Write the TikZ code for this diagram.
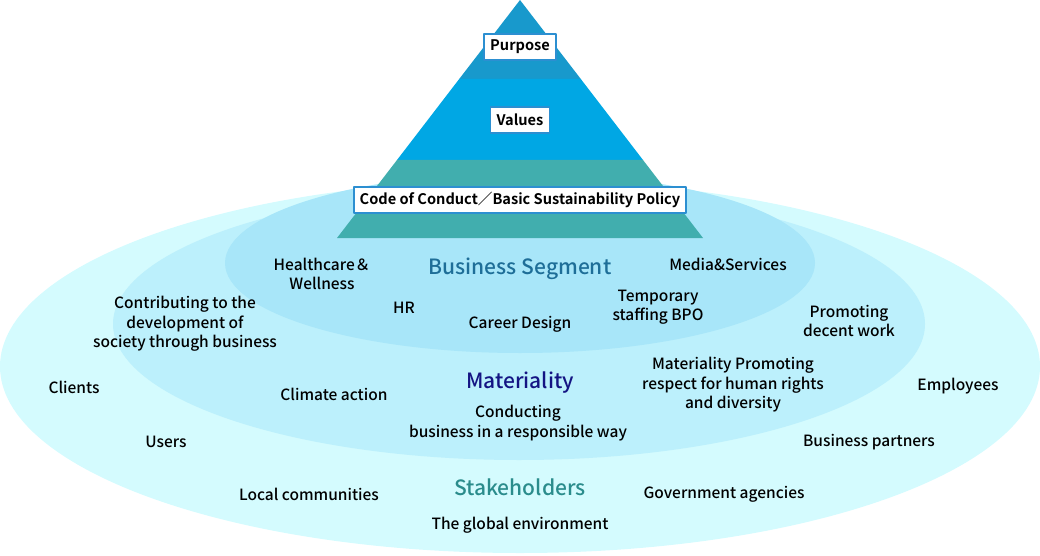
\documentclass[tikz,border=0pt]{standalone}
\usepackage{fontspec}
\setmainfont{Noto Sans CJK JP}[UprightFont=* Medium, BoldFont=* Bold]
\usepackage{xcolor}

\definecolor{outerfill}{HTML}{D4FBFE}
\definecolor{midfill}{HTML}{BCF0FC}
\definecolor{innerfill}{HTML}{A8E6F9}
\definecolor{purposeblue}{HTML}{1899CC}
\definecolor{valuesblue}{HTML}{00A7E4}
\definecolor{codeteal}{HTML}{41AEAE}
\definecolor{boxline}{HTML}{2C8FD1}
\definecolor{segtext}{HTML}{1E6E98}
\definecolor{mattext}{HTML}{141483}
\definecolor{stktext}{HTML}{2A8C8C}

\tikzset{
  lbl/.style={align=center, font=\fontsize{15.5}{19.5}\selectfont, inner sep=1pt},
  headline/.style={font=\fontsize{21}{24}\selectfont, inner sep=1pt},
  tagbox/.style={draw=boxline, line width=1.6pt, fill=white, inner xsep=6pt,
    minimum height=26pt, font=\bfseries\fontsize{14.6}{16}\selectfont}
}

\begin{document}
\begin{tikzpicture}[x=1pt, y=-1pt, line join=round]
\useasboundingbox (0,0) rectangle (1040,556);

% Ellipses
\fill[outerfill] (520,366.5) ellipse [x radius=520, y radius=186.5];
\fill[midfill] (519,324) ellipse [x radius=406, y radius=136];
\fill[innerfill] (520,263) ellipse [x radius=295, y radius=90];

% Pyramid
\fill[purposeblue] (520,0) -- (580.8,79) -- (459.2,79) -- cycle;
\fill[valuesblue] (459.2,79) -- (580.8,79) -- (643,160) -- (397,160) -- cycle;
\fill[codeteal] (397,160) -- (643,160) -- (703,238) -- (337,238) -- cycle;

% Pyramid labels
\node[tagbox] (purpose) at (520,47) {Purpose};
\node[tagbox] (values) at (520,120) {Values};
\node[tagbox] (code) at (520,200) {Code of Conduct／Basic Sustainability Policy};

% Business Segment
\node[headline, text=segtext] (segment) at (520,269) {Business Segment};
\node[lbl] (health) at (322,274) {Healthcare＆\\Wellness};
\node[lbl] (media) at (728,264) {Media\&Services};
\node[lbl] (hr) at (404,308) {HR};
\node[lbl] (career) at (520,324) {Career Design};
\node[lbl] (bpo) at (658,307) {Temporary\\staffing BPO};

% Materiality
\node[headline, text=mattext] (materiality) at (520,383) {Materiality};
\node[lbl] (society) at (185,324) {Contributing to the\\development of\\society through business};
\node[lbl] (decent) at (849,321) {Promoting\\decent work};
\node[lbl] (rights) at (733,385) {Materiality Promoting\\respect for human rights\\and diversity};
\node[lbl] (climate) at (334,394) {Climate action};
\node[lbl] (conduct) at (518,423) {Conducting\\business in a responsible way};

% Stakeholders
\node[headline, text=stktext] (stake) at (520,487) {Stakeholders};
\node[lbl] (clients) at (74,387) {Clients};
\node[lbl] (employees) at (958,386) {Employees};
\node[lbl] (users) at (166,442) {Users};
\node[lbl] (partners) at (869,442) {Business partners};
\node[lbl] (local) at (309,494) {Local communities};
\node[lbl] (gov) at (724,494) {Government agencies};
\node[lbl] (global) at (520,525) {The global environment};

\end{tikzpicture}
\end{document}
